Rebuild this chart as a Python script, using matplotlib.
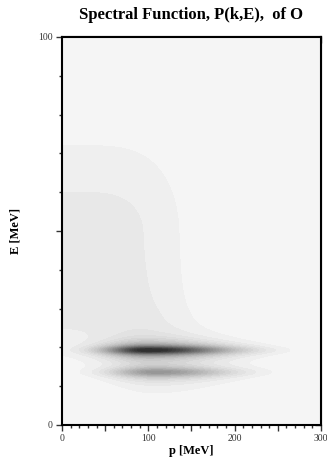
import numpy as np
import matplotlib
matplotlib.use("Agg")
import matplotlib.pyplot as plt
from matplotlib.colors import LinearSegmentedColormap
from matplotlib.ticker import MultipleLocator, FuncFormatter

# ---- data ----
title = "Spectral Function, P(k,E),  of O"
xlabel = "p [MeV]"
ylabel = "E [MeV]"
x_range = [0, 300]
y_range = [0, 100]
x_ticklabels = [0, 100, 200, 300]
y_ticklabels = [0, 100]

# quasi-hole bands: energy centre, momentum centre, amplitude, widths
band_E = [19.3, 13.6]
band_p = [100.0, 110.0]
band_amp = [1.0, 0.45]
band_gamma = [1.1, 1.15]        # Lorentzian half width in E
band_sp_lo = [48.0, 50.0]        # momentum width below centre
band_sp_hi = [88.0, 80.0]        # momentum width above centre

# correlated background
bg_amp = 0.0753
bg_p_width = 138.0
bg_E_top = 49.7
bg_E_width = 23.8
bg_E_low = 30.0
bg_E_low_width = 11.5

n_levels = 32
level_max = 1.0

# ---- build the surface ----
p = np.linspace(x_range[0], x_range[1], 361)
E = np.linspace(y_range[0], y_range[1], 601)
P, EE = np.meshgrid(p, E)

Z = np.zeros_like(P)
for e0, p0, a, g, slo, shi in zip(band_E, band_p, band_amp, band_gamma, band_sp_lo, band_sp_hi):
    sp = np.where(P < p0, slo, shi)
    Z += a * np.exp(-((P - p0) / sp) ** 2) / (1 + ((EE - e0) / g) ** 2)

up = np.clip(EE - bg_E_top, 0, None)
lo = np.clip(bg_E_low - EE, 0, None)
Z += bg_amp * np.exp(-(P / bg_p_width) ** 4 - (up / bg_E_width) ** 2 - (lo / bg_E_low_width) ** 2)

# ---- figure ----
fig = plt.figure(figsize=(3.27, 4.62), dpi=100)
ax = fig.add_axes([62 / 327, 1 - 425 / 462, (321 - 62) / 327, (425 - 37) / 462])

cmap = LinearSegmentedColormap.from_list("g", ["#f8f8f8", "#303030"])
levels = np.linspace(0, level_max, n_levels + 1)
ax.contourf(P, EE, Z, levels=levels, cmap=cmap, extend="max")

ax.set_xlim(x_range)
ax.set_ylim(y_range)

serif = ["Liberation Serif", "DejaVu Serif"]
ax.set_title(title, fontsize=12, fontweight="bold", family=serif, pad=13)
ax.set_xlabel(xlabel, fontsize=9, fontweight="bold", family=serif, labelpad=1.5)
ax.set_ylabel(ylabel, fontsize=9, fontweight="bold", family=serif, labelpad=12)

ax.xaxis.set_major_locator(MultipleLocator(50))
ax.xaxis.set_minor_locator(MultipleLocator(10))
ax.yaxis.set_major_locator(MultipleLocator(50))
ax.yaxis.set_minor_locator(MultipleLocator(10))
ax.xaxis.set_major_formatter(FuncFormatter(lambda v, _: f"{int(v)}" if int(round(v)) in x_ticklabels else ""))
ax.yaxis.set_major_formatter(FuncFormatter(lambda v, _: f"{int(v)}" if int(round(v)) in y_ticklabels else ""))

ax.tick_params(which="both", direction="out", top=False, right=False, width=1, color="#333333",
               labelsize=7, labelcolor="#333333", pad=2.5)
ax.tick_params(which="major", length=4)
ax.tick_params(which="minor", length=2.5)
for lab in ax.get_xticklabels() + ax.get_yticklabels():
    lab.set_family(serif)

# inward ticks on top and right
axt = ax.secondary_xaxis("top")
axr = ax.secondary_yaxis("right")
axt.xaxis.set_major_locator(MultipleLocator(50))
axt.xaxis.set_minor_locator(MultipleLocator(10))
axr.yaxis.set_major_locator(MultipleLocator(50))
axr.yaxis.set_minor_locator(MultipleLocator(10))
axt.tick_params(which="both", direction="in", labeltop=False, width=1, color="#333333")
axr.tick_params(which="both", direction="in", labelright=False, width=1, color="#333333")
for sa in (axt, axr):
    sa.tick_params(which="major", length=4)
    sa.tick_params(which="minor", length=2.5)
    for s in sa.spines.values():
        s.set_linewidth(1.5)

for s in ax.spines.values():
    s.set_linewidth(1.5)
    s.set_color("black")

fig.savefig("out.png", dpi=100)
